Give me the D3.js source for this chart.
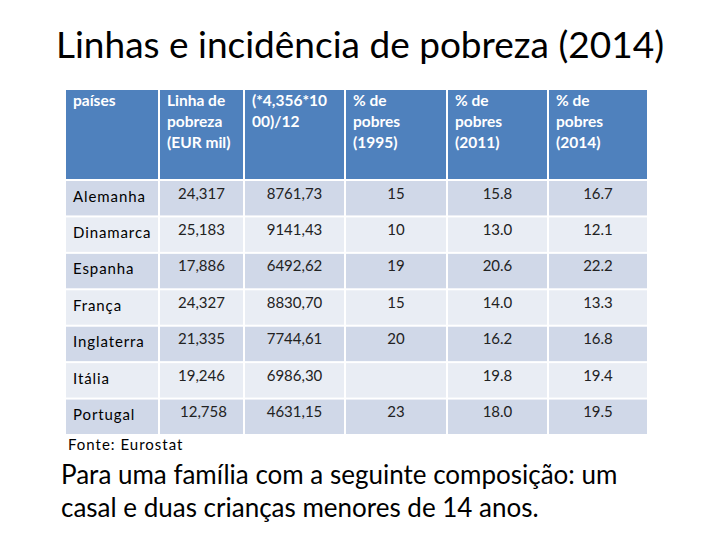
<!DOCTYPE html>
<html><head><meta charset="utf-8">
<script src="https://cdn.jsdelivr.net/npm/d3@7"></script>
<style>
html,body{margin:0;padding:0;background:#fff;}
svg{display:block;font-family:Lato,"Open Sans","Liberation Sans",sans-serif;}
</style></head>
<body>
<script>
// ---- data ----
const title = "Linhas e incidência de pobreza (2014)";
const headers = [
  ["países"],
  ["Linha de", "pobreza", "(EUR mil)"],
  ["(*4,356*10", "00)/12"],
  ["% de", "pobres", "(1995)"],
  ["% de", "pobres", "(2011)"],
  ["% de", "pobres", "(2014)"]
];
const countries = ["Alemanha","Dinamarca","Espanha","França","Inglaterra","Itália","Portugal"];
const povertyLine = [24.317, 25.183, 17.886, 24.327, 21.335, 19.246, 12.758];
const monthly = [8761.73, 9141.43, 6492.62, 8830.70, 7744.61, 6986.30, 4631.15];
const poor1995 = [15, 10, 19, 15, 20, null, 23];
const poor2011 = [15.8, 13.0, 20.6, 14.0, 16.2, 19.8, 18.0];
const poor2014 = [16.7, 12.1, 22.2, 13.3, 16.8, 19.4, 19.5];
const source = "Fonte: Eurostat";
const note = ["Para uma família com a seguinte composição: um", "casal e duas crianças menores de 14 anos."];

// ---- layout ----
const W = 720, H = 540;
const colEdges = [65, 159, 244, 345, 447, 548, 648];
const headerTop = 90, headerBottom = 180, tableBottom = 435;
const headerColor = "#4F81BD", darkRow = "#D0D8E8", lightRow = "#E9EDF4";

const svg = d3.select("body").append("svg").attr("width", W).attr("height", H);

svg.append("text").attr("x", 360).attr("y", 58).attr("text-anchor", "middle")
  .attr("font-size", 37).attr("font-weight", 400).attr("fill", "#000").text(title);

const cols = d3.range(headers.length);
const x = d3.scaleOrdinal().domain(cols).range(colEdges.slice(0, -1));
const cw = d => colEdges[d + 1] - colEdges[d];
const y = d3.scaleBand().domain(countries).range([headerBottom, tableBottom]).paddingInner(0);

const fmtComma = f => v => v == null ? "" : d3.format(f)(v).replace(".", ",");
const fmtDot = f => v => v == null ? "" : d3.format(f)(v);
const colData = [countries, povertyLine, monthly, poor1995, poor2011, poor2014];
const colFmt = [d => d, fmtComma(".3f"), fmtComma(".2f"), fmtDot("d"), fmtDot(".1f"), fmtDot(".1f")];

// header
const hg = svg.append("g");
cols.forEach(c => {
  hg.append("rect").attr("x", x(c) + 1).attr("y", headerTop)
    .attr("width", cw(c) - 2).attr("height", headerBottom - headerTop - 1).attr("fill", headerColor);
  const t = hg.append("text")
    .attr("font-size", 15.5).attr("font-weight", 700).attr("fill", "#fff");
  headers[c].forEach((line, i) => t.append("tspan").attr("x", x(c) + 8).attr("y", 106 + i * 21).text(line));
});

// body
countries.forEach((name, r) => {
  const g = svg.append("g");
  cols.forEach(c => {
    g.append("rect").attr("x", x(c) + 1).attr("y", y(name) + 1)
      .attr("width", cw(c) - 2).attr("height", y.bandwidth() - 2)
      .attr("fill", r % 2 === 0 ? darkRow : lightRow);
    const val = colFmt[c](colData[c][r]);
    const isName = c === 0;
    g.append("text")
      .attr("x", isName ? x(c) + 8 : x(c) + cw(c) / 2 + (c === 1 && r === 6 ? 2 : 0))
      .attr("y", y(name) + (isName ? 21.5 : 18.5))
      .attr("text-anchor", isName ? "start" : "middle")
      .attr("font-size", 15).attr("letter-spacing", isName ? 0.9 : 0)
      .attr("fill", isName ? "#000" : "#222")
      .text(val);
  });
});

svg.append("text").attr("x", 68).attr("y", 450).attr("font-size", 15)
  .attr("letter-spacing", 1).attr("fill", "#000").text(source);
const nt = svg.append("text").attr("font-size", 26).attr("fill", "#000");
note.forEach((l, i) => nt.append("tspan").attr("x", 61).attr("y", 484 + i * 32.5).text(l));
</script>
</body></html>
